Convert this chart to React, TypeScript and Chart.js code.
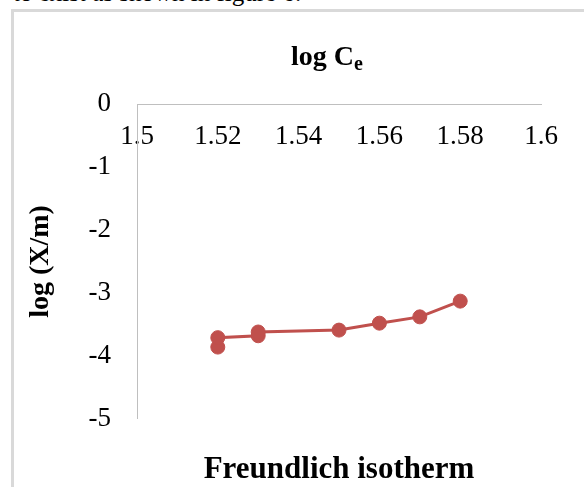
import React, { useEffect, useRef } from "react";
import { Chart, registerables } from "chart.js";

Chart.register(...registerables);

const logCe = [1.52, 1.52, 1.53, 1.53, 1.55, 1.56, 1.57, 1.58];
const logXm = [-3.86, -3.71, -3.68, -3.62, -3.59, -3.48, -3.38, -3.13];
const xTicks = [1.5, 1.52, 1.54, 1.56, 1.58, 1.6];
const xTickLabels = ["1.5", "1.52", "1.54", "1.56", "1.58", "1.6"];
const yTicks = [0, -1, -2, -3, -4, -5];
const yTickLabels = ["0", "-1", "-2", "-3", "-4", "-5"];

const serif = "'Liberation Serif', 'Times New Roman', serif";

export default function App() {
  const ref = useRef<HTMLCanvasElement>(null);

  useEffect(() => {
    const chart = new Chart(ref.current!, {
      type: "scatter",
      data: {
        datasets: [
          {
            data: logCe.map((x, i) => ({ x, y: logXm[i] })),
            showLine: true,
            borderColor: "#c0504d",
            backgroundColor: "#c0504d",
            borderWidth: 3,
            pointRadius: 7,
            pointBorderWidth: 1,
            pointBackgroundColor: "#c0504d",
            pointBorderColor: "#c0504d",
          },
        ],
      },
      options: {
        animation: false,
        responsive: false,
        layout: { padding: { top: 104, left: 0, right: 43, bottom: 0 } },
        plugins: {
          legend: { display: false },
          tooltip: { enabled: false },
          title: {
            display: true,
            position: "bottom",
            fullSize: false,
            text: "Freundlich isotherm",
            color: "#000",
            font: { family: serif, size: 31, weight: "bold", lineHeight: 1.1 },
            padding: { top: 34, bottom: 0 },
          },
        },
        scales: {
          x: {
            type: "linear",
            min: 1.5,
            max: 1.6,
            position: { y: 0 } as any,
            afterBuildTicks: (s: any) => {
              s.ticks = xTicks.map((v) => ({ value: v }));
            },
            afterFit: (s: any) => {
              s.height = 0;
            },
            ticks: {
              callback: (_v: any, i: number) => xTickLabels[i],
              font: { family: serif, size: 27 },
              color: "#000",
              padding: 17,
              maxRotation: 0,
              autoSkip: false,
            },
            grid: { display: true, drawOnChartArea: false, drawTicks: false },
            border: { display: true, color: "#bfbfbf", width: 1 },
          },
          y: {
            type: "linear",
            position: "left",
            min: -5,
            max: 0,
            afterBuildTicks: (s: any) => {
              s.ticks = yTicks.map((v) => ({ value: v }));
            },
            afterFit: (s: any) => {
              s.width = 137;
            },
            title: {
              display: true,
              text: "log (X/m)",
              color: "#000",
              font: { family: serif, size: 28, weight: "bold", lineHeight: 1.2 },
              padding: { top: 24, bottom: 0 },
            },
            ticks: {
              callback: (_v: any, i: number) => yTickLabels[i],
              font: { family: serif, size: 27 },
              color: "#000",
              padding: 26,
              autoSkip: false,
            },
            grid: { display: true, drawOnChartArea: false, drawTicks: false },
            border: { display: true, color: "#bfbfbf", width: 1 },
          },
        },
      },
    } as any);
    return () => chart.destroy();
  }, []);

  return (
    <div
      style={{
        position: "absolute",
        left: 0,
        top: 0,
        width: 584,
        height: 487,
        overflow: "hidden",
        background: "#fff",
      }}
    >
      <div
        style={{
          position: "absolute",
          left: 13,
          top: -20,
          font: `25px ${serif}`,
          lineHeight: "25px",
          whiteSpace: "nowrap",
          color: "#000",
        }}
      >
        to exist as shown in figure 6.
      </div>
      <div
        style={{
          position: "absolute",
          left: 11,
          top: 9,
          width: 700,
          height: 700,
          border: "3px solid #d9d9d9",
        }}
      />
      <canvas
        ref={ref}
        width={584}
        height={487}
        style={{ position: "absolute", left: 0, top: 0, display: "block" }}
      />
      <div
        style={{
          position: "absolute",
          left: 291,
          top: 42,
          font: `bold 28px ${serif}`,
          lineHeight: "28px",
          whiteSpace: "nowrap",
          color: "#000",
        }}
      >
        log C<sub style={{ fontSize: 20, verticalAlign: "-5px", lineHeight: "28px" }}>e</sub>
      </div>
    </div>
  );
}
